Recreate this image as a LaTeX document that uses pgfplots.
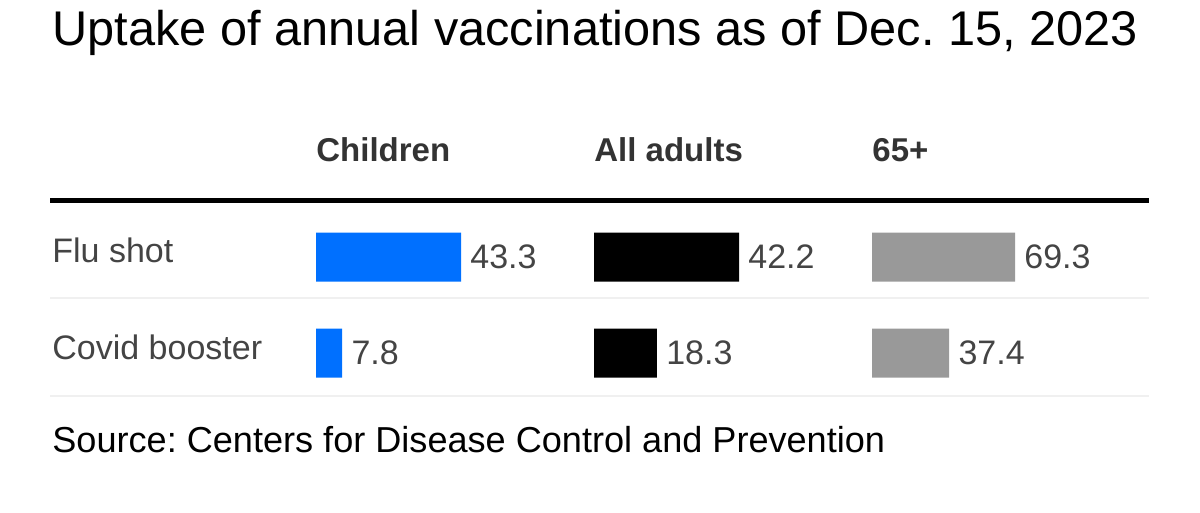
\documentclass[border=0pt]{standalone}
\usepackage{pgfplots}
\pgfplotsset{compat=1.18}
\usepackage{fontspec}
\setmainfont{Liberation Sans}
\frenchspacing

\definecolor{cblue}{HTML}{0070FF}
\definecolor{cgray}{HTML}{999999}
\definecolor{txt}{HTML}{333333}
\definecolor{rowtxt}{HTML}{444444}
\definecolor{sep}{HTML}{F0F0F0}

% one panel per age group, each scaled to its own maximum
\pgfplotsset{
  panel/.style={
    xbar, bar width=24.5pt, bar shift=0pt,
    hide axis, clip=false, scale only axis,
    height=96pt, ymin=-0.5, ymax=1.5, y dir=reverse,
    xmin=0, enlargelimits=false,
    anchor=north west,
    point meta=explicit symbolic,
    nodes near coords,
    every node near coord/.append style={anchor=west, inner sep=0pt,
      xshift=4.5pt, font=\fontsize{17}{20}\selectfont, text=rowtxt},
  },
}

\begin{document}
\begin{tikzpicture}
\path[use as bounding box] (0,0) rectangle (600pt,-256.5pt);

\node[anchor=base west, inner sep=0pt, font=\fontsize{24.35}{28}\selectfont] at (26pt,-23pt)
  {Uptake of annual vaccinations as of Dec. 15, 2023};

\foreach \x/\t in {158/Children, 297/All adults, 436/65+}
  \node[anchor=base west, inner sep=0pt, text=txt, font=\fontsize{16.5}{20}\selectfont\bfseries]
    at (\x pt,-81pt) {\t};

\draw[line width=2.5pt, black] (25pt,-100.5pt) -- (574.5pt,-100.5pt);
\draw[line width=0.75pt, sep] (25pt,-149pt) -- (574.5pt,-149pt);
\draw[line width=0.75pt, sep] (25pt,-198pt) -- (574.5pt,-198pt);

\node[anchor=base west, inner sep=0pt, text=rowtxt, font=\fontsize{17}{20}\selectfont]
  at (26pt,-131.5pt) {Flu shot};
\node[anchor=base west, inner sep=0pt, text=rowtxt, font=\fontsize{17}{20}\selectfont]
  at (26pt,-179.5pt) {Covid booster};

\begin{axis}[panel, at={(158pt,-104.5pt)}, width=72.5pt, xmax=43.3]
\addplot[fill=cblue, draw=none] coordinates {(43.3,0) [43.3] (7.8,1) [7.8]};
\end{axis}

\begin{axis}[panel, at={(297pt,-104.5pt)}, width=72.5pt, xmax=42.2]
\addplot[fill=black, draw=none] coordinates {(42.2,0) [42.2] (18.3,1) [18.3]};
\end{axis}

\begin{axis}[panel, at={(436pt,-104.5pt)}, width=71.5pt, xmax=69.3]
\addplot[fill=cgray, draw=none] coordinates {(69.3,0) [69.3] (37.4,1) [37.4]};
\end{axis}

\node[anchor=base west, inner sep=0pt, font=\fontsize{18.05}{22}\selectfont] at (26pt,-226pt)
  {Source: Centers for Disease Control and Prevention};
\end{tikzpicture}
\end{document}
